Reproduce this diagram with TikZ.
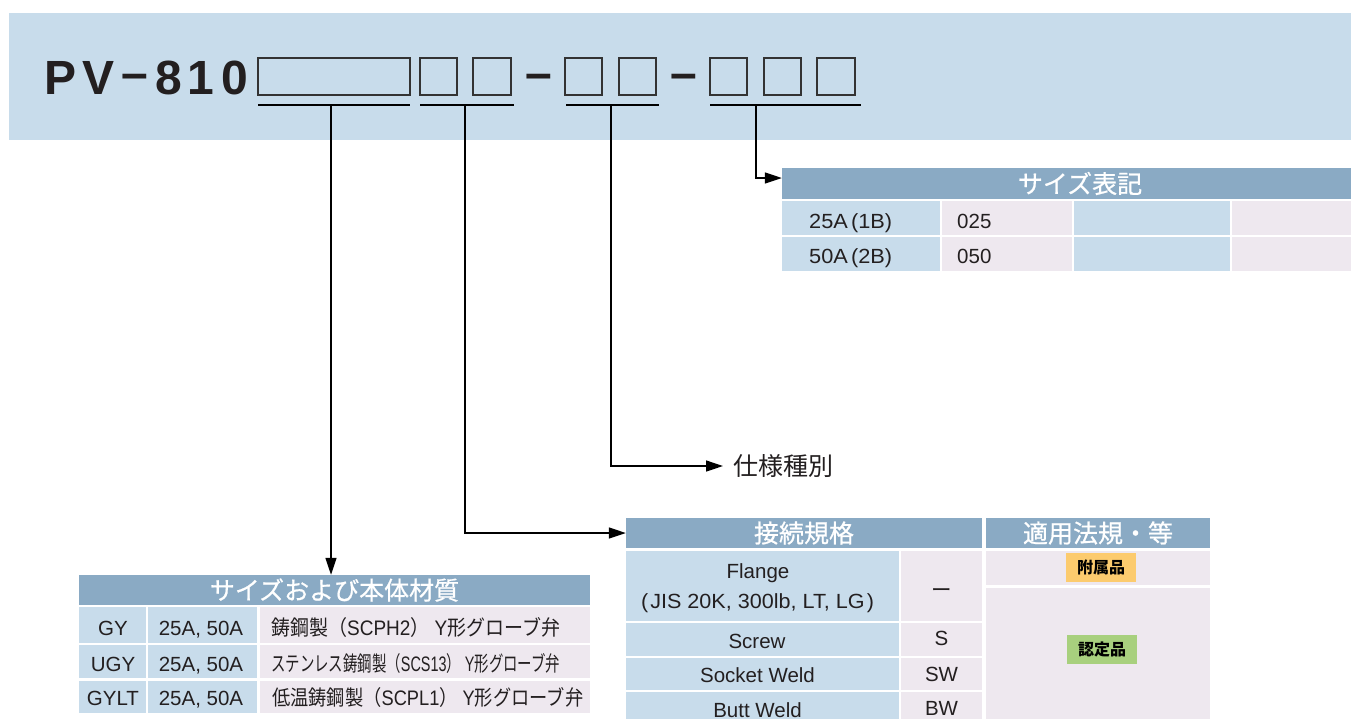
\documentclass[tikz,border=0pt]{standalone}
\usepackage{fontspec}
\usepackage{graphicx}
\setmainfont{Liberation Sans}
\newfontfamily\cjk{Noto Sans CJK JP}
\newfontfamily\cjkhdr[FakeBold=0.7]{Noto Sans CJK JP}
\usetikzlibrary{arrows.meta}
\newcommand\jp[1]{{\cjk #1}}
\newcommand\fitw[2]{\resizebox{#1}{\height}{#2}}
\definecolor{bannerblue}{HTML}{C8DCEB}
\definecolor{hdrblue}{HTML}{8AAAC4}
\definecolor{cellblue}{HTML}{C8DCEB}
\definecolor{cellpink}{HTML}{EEE8EF}
\definecolor{badgeorange}{HTML}{FCCB6E}
\definecolor{badgegreen}{HTML}{A8D07E}
\definecolor{boxgray}{HTML}{333333}
\definecolor{txt}{HTML}{231F20}
\tikzset{
  pvchar/.style={font=\fontsize{48}{48}\selectfont\bfseries, text=txt, anchor=base, inner sep=0pt},
  bigbox/.style={draw=boxgray, line width=1.4pt},
  smallbox/.style={draw=boxgray, line width=2pt},
  uline/.style={draw=black, line width=2.7pt},
  conn/.style={draw=black, line width=1.3pt, -{Triangle[length=17pt,width=11pt]}},
  hdrbox/.style={fill=hdrblue, text=white, inner sep=0pt, font=\cjkhdr\fontsize{25}{25}\selectfont},
  ltxt/.style={text=txt, inner sep=0pt, anchor=base, font=\fontsize{20.5}{24}\selectfont},
  jtxt/.style={text=txt, inner sep=0pt, anchor=base west, font=\fontsize{21}{24}\selectfont},
  badge/.style={inner sep=0pt, text=black, font=\cjk\bfseries\fontsize{16}{16}\selectfont, minimum width=70pt, minimum height=29pt},
  spectxt/.style={text=txt, inner sep=0pt, anchor=west, font=\cjk\fontsize{25}{25}\selectfont},
}
\begin{document}
\begin{tikzpicture}[x=1pt,y=-1pt]
\useasboundingbox (0,0) rectangle (1351,718);
% banner
\fill[bannerblue] (9,13) rectangle (1351,140);
% PV-810
\node[pvchar] (c1) at (61,94) {P};
\node[pvchar] (c2) at (98.5,94) {V};
\node[pvchar] (c3) at (135,94) {\raisebox{4.5pt}{–}};
\node[pvchar] (c4) at (168.5,94) {8};
\node[pvchar] (c5) at (201,94) {1};
\node[pvchar] (c6) at (234.5,94) {0};
% code boxes
\draw[bigbox] (258,58) rectangle (410,95);
\foreach \a/\b in {420/457,473/511,565/602,619/656,710/747,764/801,817/855}
  \draw[smallbox] (\a,58) rectangle (\b,95);
\node[pvchar] (d1) at (539,94) {\raisebox{4.5pt}{–}};
\node[pvchar] (d2) at (684,94) {\raisebox{4.5pt}{–}};
% underlines
\draw[uline] (258,105) -- (410,105);
\draw[uline] (420,105) -- (514,105);
\draw[uline] (566,105) -- (659,105);
\draw[uline] (710,105) -- (861,105);
\coordinate (u1) at (331,105);
\coordinate (u2) at (465,105);
\coordinate (u3) at (611,105);
\coordinate (u4) at (756,105);

% ---------- size table (top right)
\node[hdrbox, minimum width=596pt, minimum height=31pt] (szhdr) at (1080,183.5) {サイズ表記};
\foreach \ya/\yb in {201/235,237/271}{
  \fill[cellblue] (782,\ya) rectangle (940,\yb);
  \fill[cellpink] (942,\ya) rectangle (1072,\yb);
  \fill[cellblue] (1074,\ya) rectangle (1230,\yb);
  \fill[cellpink] (1232,\ya) rectangle (1351,\yb);
}
\node[ltxt, anchor=base west] (s1) at (809,228) {\fitw{83pt}{25A\hspace{3pt}(1B)}};
\node[ltxt, anchor=base west] (s2) at (809,263) {\fitw{83pt}{50A\hspace{3pt}(2B)}};
\node[ltxt, anchor=base west] (s3) at (957,228) {025};
\node[ltxt, anchor=base west] (s4) at (957,263) {050};

% ---------- spec label
\node[spectxt] (spec) at (733,466) {仕様種別};

% ---------- material table (bottom left)
\node[hdrbox, minimum width=511pt, minimum height=30pt] (mathdr) at (334.5,590) {サイズおよび本体材質};
\foreach \ya/\yb in {607/643,645/678,681/713}{
  \fill[cellblue] (79,\ya) rectangle (146,\yb);
  \fill[cellblue] (148,\ya) rectangle (257,\yb);
  \fill[cellpink] (260,\ya) rectangle (590,\yb);
}
\node[ltxt] (m1) at (113,635) {GY};
\node[ltxt] (m2) at (113,671) {UGY};
\node[ltxt] (m3) at (113,705) {GYLT};
\node[ltxt] (m4) at (201,635) {25A, 50A};
\node[ltxt] (m5) at (201,671) {25A, 50A};
\node[ltxt] (m6) at (201,705) {25A, 50A};
\node[jtxt] (m7) at (271,635) {\fitw{289pt}{\jp{鋳鋼製（}SCPH2\jp{）} Y\jp{形グローブ弁}}};
\node[jtxt] (m8) at (271,671) {\fitw{289pt}{\jp{ステンレス鋳鋼製（}SCS13\jp{）} Y\jp{形グローブ弁}}};
\node[jtxt] (m9) at (272,705) {\fitw{311pt}{\jp{低温鋳鋼製（}SCPL1\jp{）} Y\jp{形グローブ弁}}};

% ---------- connection table
\node[hdrbox, minimum width=356pt, minimum height=30pt] (conhdr) at (804,533) {接続規格};
\node[hdrbox, minimum width=224pt, minimum height=30pt] (lawhdr) at (1098,533) {適用法規・等};
\foreach \ya/\yb in {551/621,623/656,658/690,692/720}{
  \fill[cellblue] (626,\ya) rectangle (899,\yb);
  \fill[cellpink] (901,\ya) rectangle (982,\yb);
}
\fill[cellpink] (986,551) rectangle (1210,585);
\fill[cellpink] (986,588) rectangle (1210,720);
\node[ltxt] (k1) at (758,578) {Flange};
\node[ltxt] (k2) at (757.5,608) {\fitw{233pt}{(\hspace{2pt}JIS 20K, 300lb, LT, LG\hspace{2pt})}};
\node[ltxt] (k3) at (941.5,597) {\jp{ー}};
\node[ltxt] (k4) at (757,648) {Screw};
\node[ltxt] (k5) at (941.5,645) {S};
\node[ltxt] (k6) at (757.5,682) {Socket Weld};
\node[ltxt] (k7) at (941.5,681) {SW};
\node[ltxt] (k8) at (757.5,717) {Butt Weld};
\node[ltxt] (k9) at (941.5,715) {BW};
\node[badge, fill=badgeorange] (acc) at (1101,567.5) {附属品};
\node[badge, fill=badgegreen] (cert) at (1102,649.5) {認定品};

% ---------- connectors
\draw[conn] (u1) -- (u1 |- mathdr.north);
\draw[conn] (u2) |- (conhdr.west);
\draw[conn] (u3) |- ([xshift=-10pt]spec.west);
\draw[conn] (u4) |- ([yshift=5.5pt]szhdr.west);
\end{tikzpicture}
\end{document}
